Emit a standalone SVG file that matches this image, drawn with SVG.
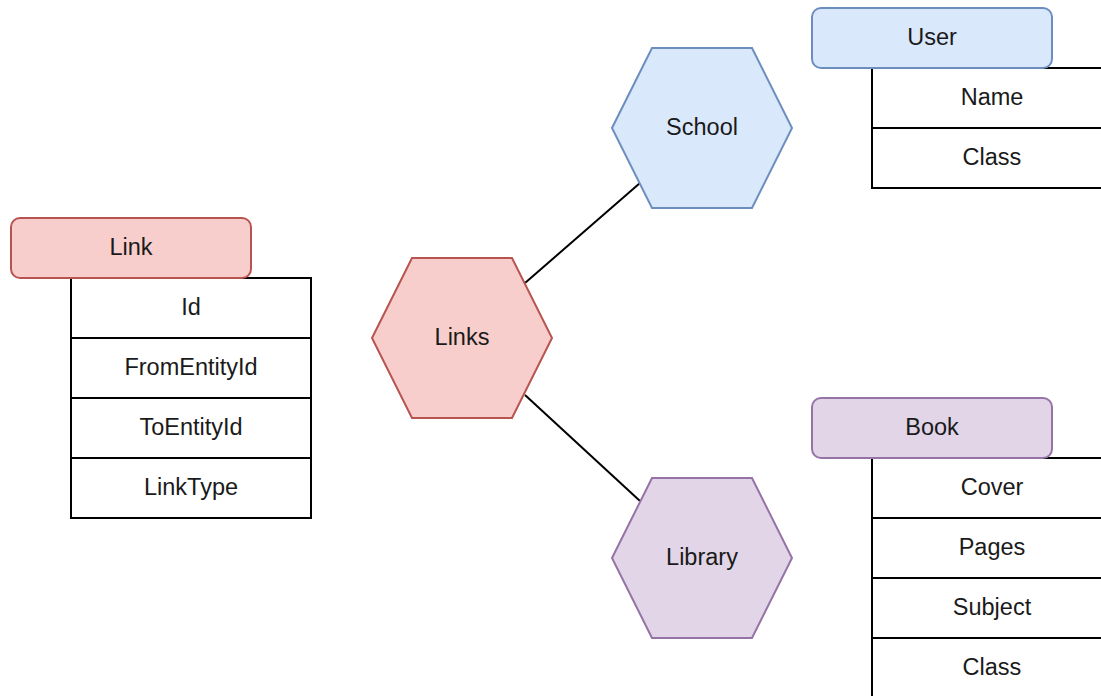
<svg xmlns="http://www.w3.org/2000/svg" width="1101" height="696" viewBox="0 0 1101 696">
<style>
text{font-family:"Liberation Sans",Arial,sans-serif;font-size:23.5px;fill:#1a1a1a;text-anchor:middle;dominant-baseline:central}
.red{fill:#f8cecc;stroke:#b85450;stroke-width:2}
.blue{fill:#dae8fc;stroke:#6c8ebf;stroke-width:2}
.purple{fill:#e1d5e7;stroke:#9673a6;stroke-width:2}
.cell{fill:#ffffff;stroke:#000000;stroke-width:2}
.edge{stroke:#000000;stroke-width:2;fill:none}
</style>
<rect width="1101" height="696" fill="#ffffff"/>
<g id="connectors">
<line class="edge" x1="525" y1="283" x2="640" y2="183"/>
<line class="edge" x1="525" y1="395" x2="640" y2="501"/>
</g>
<g id="link-table">
<rect class="cell" x="71" y="278" width="240" height="60"/>
<rect class="cell" x="71" y="338" width="240" height="60"/>
<rect class="cell" x="71" y="398" width="240" height="60"/>
<rect class="cell" x="71" y="458" width="240" height="60"/>
<text x="191" y="307">Id</text>
<text x="191" y="367">FromEntityId</text>
<text x="191" y="427">ToEntityId</text>
<text x="191" y="487">LinkType</text>
</g>
<g id="link-header">
<rect class="red" x="11" y="218" width="240" height="60" rx="9"/>
<text x="131" y="247">Link</text>
</g>
<g id="links">
<polygon class="red" points="372,338 412,258 512,258 552,338 512,418 412,418"/>
<text x="462" y="337">Links</text>
</g>
<g id="school">
<polygon class="blue" points="612,128 652,48 752,48 792,128 752,208 652,208"/>
<text x="702" y="127">School</text>
</g>
<g id="library">
<polygon class="purple" points="612,558 652,478 752,478 792,558 752,638 652,638"/>
<text x="702" y="557">Library</text>
</g>
<g id="user-table">
<rect class="cell" x="872" y="68" width="240" height="60"/>
<rect class="cell" x="872" y="128" width="240" height="60"/>
<text x="992" y="97">Name</text>
<text x="992" y="157">Class</text>
</g>
<g id="user-header">
<rect class="blue" x="812" y="8" width="240" height="60" rx="9"/>
<text x="932" y="37">User</text>
</g>
<g id="book-table">
<rect class="cell" x="872" y="458" width="240" height="60"/>
<rect class="cell" x="872" y="518" width="240" height="60"/>
<rect class="cell" x="872" y="578" width="240" height="60"/>
<rect class="cell" x="872" y="638" width="240" height="60"/>
<text x="992" y="487">Cover</text>
<text x="992" y="547">Pages</text>
<text x="992" y="607">Subject</text>
<text x="992" y="667">Class</text>
</g>
<g id="book-header">
<rect class="purple" x="812" y="398" width="240" height="60" rx="9"/>
<text x="932" y="427">Book</text>
</g>
</svg>
